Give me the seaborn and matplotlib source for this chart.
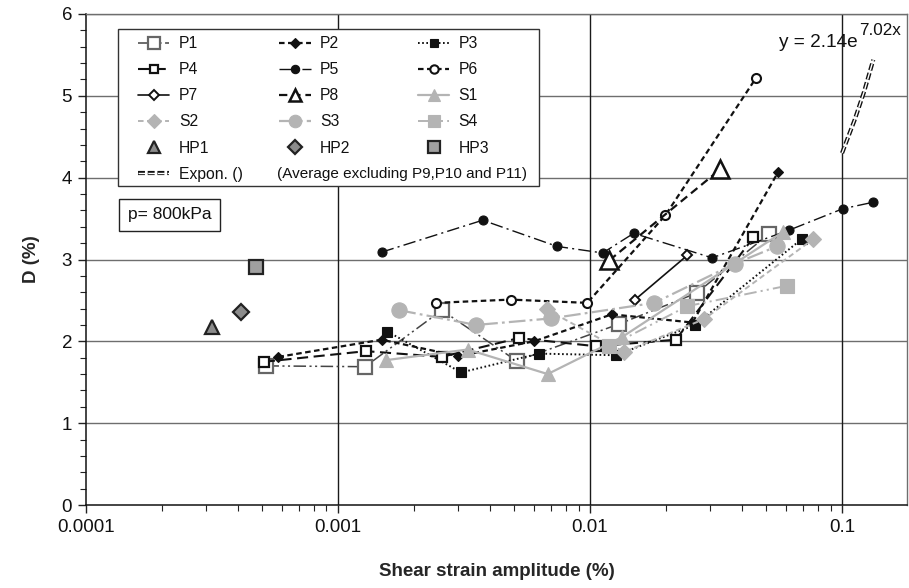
import matplotlib
matplotlib.use("Agg")
import matplotlib.pyplot as plt
import seaborn as sns
import numpy as np
from matplotlib.lines import Line2D
from matplotlib.patches import Rectangle
from matplotlib.legend_handler import HandlerTuple
from matplotlib.ticker import FixedLocator, MultipleLocator, NullFormatter

# ---------------- data ----------------
P1_x = [0.00052, 0.00128, 0.00258, 0.00512, 0.0130, 0.0265, 0.0511]
P1_y = [1.70, 1.69, 2.38, 1.76, 2.21, 2.59, 3.31]
P2_x = [0.00058, 0.00149, 0.0030, 0.0060, 0.0122, 0.0255, 0.0558]
P2_y = [1.81, 2.02, 1.82, 2.00, 2.33, 2.23, 4.07]
P3_x = [0.00157, 0.00308, 0.00628, 0.01268, 0.0261, 0.0692]
P3_y = [2.12, 1.62, 1.85, 1.83, 2.20, 3.25]
P4_x = [0.000508, 0.00129, 0.00258, 0.00522, 0.01057, 0.0219, 0.0445]
P4_y = [1.75, 1.88, 1.81, 2.04, 1.94, 2.02, 3.27]
P5_x = [0.00149, 0.00375, 0.0074, 0.01122, 0.0149, 0.0305, 0.0618, 0.1006, 0.133]
P5_y = [3.09, 3.48, 3.16, 3.08, 3.32, 3.02, 3.36, 3.62, 3.70]
P6_x = [0.00244, 0.00484, 0.00975, 0.0199, 0.0456]
P6_y = [2.47, 2.51, 2.47, 3.54, 5.22]
P7_x = [0.0151, 0.0243]
P7_y = [2.51, 3.05]
P8_x = [0.01193, 0.0328]
P8_y = [2.99, 4.10]
S1_x = [0.00155, 0.00327, 0.00679, 0.01336, 0.0585]
S1_y = [1.77, 1.90, 1.60, 2.05, 3.34]
S2_x = [0.00673, 0.01365, 0.0283, 0.0769]
S2_y = [2.39, 1.87, 2.27, 3.25]
S3_x = [0.00175, 0.00353, 0.0070, 0.0180, 0.0376, 0.0551]
S3_y = [2.38, 2.20, 2.28, 2.47, 2.95, 3.16]
S4_x = [0.01193, 0.0243, 0.0607]
S4_y = [1.94, 2.43, 2.68]
HP1_x = [0.000317]
HP1_y = [2.17]
HP2_x = [0.000412]
HP2_y = [2.36]
HP3_x = [0.000471]
HP3_y = [2.91]
# exponential trend line (y = 2.14 e^(7.02x)) as drawn
EXP_x = [0.100, 0.112, 0.122, 0.133]
EXP_y = [4.30, 4.70, 5.04, 5.44]

x_ticks = [0.0001, 0.001, 0.01, 0.1]
x_ticklabels = ["0.0001", "0.001", "0.01", "0.1"]
y_ticks = [0, 1, 2, 3, 4, 5, 6]

# ---------------- styling ----------------
sns.set_style("white")
plt.rcParams["font.family"] = ["Liberation Sans", "DejaVu Sans"]
plt.rcParams["lines.scale_dashes"] = False

W, H = 909, 588
fig = plt.figure(figsize=(W / 100, H / 100), dpi=100)
ax = fig.add_axes([86 / W, 1 - 505 / H, (907 - 86) / W, (505 - 14) / H])
ax.set_xscale("log")

BLK = "#111111"
GRY = "#b4b4b4"
DGR = "#666666"

series = [
    ("P1", P1_x, P1_y, dict(color="#444444", linestyle=(0, (9, 2.5, 1.5, 2.5, 1.5, 2.5)), linewidth=1.1,
                            marker="s", markersize=10, markerfacecolor="white", markeredgecolor=DGR, markeredgewidth=1.6)),
    ("P2", P2_x, P2_y, dict(color=BLK, linestyle=(0, (4, 2.5)), linewidth=1.6,
                            marker="D", markersize=5, markerfacecolor=BLK, markeredgecolor=BLK, markeredgewidth=0.8)),
    ("P3", P3_x, P3_y, dict(color=BLK, linestyle=(0, (1.2, 1.8)), linewidth=1.4,
                            marker="s", markersize=7, markerfacecolor=BLK, markeredgecolor=BLK, markeredgewidth=0.8)),
    ("P4", P4_x, P4_y, dict(color=BLK, linestyle=(0, (8, 4)), linewidth=1.5,
                            marker="s", markersize=6.5, markerfacecolor="white", markeredgecolor=BLK, markeredgewidth=1.6)),
    ("P5", P5_x, P5_y, dict(color=BLK, linestyle=(0, (9, 3, 1.5, 3)), linewidth=1.0,
                            marker="o", markersize=6.5, markerfacecolor=BLK, markeredgecolor=BLK, markeredgewidth=0.8)),
    ("P6", P6_x, P6_y, dict(color=BLK, linestyle=(0, (4, 2.5)), linewidth=1.6,
                            marker="o", markersize=6.5, markerfacecolor="white", markeredgecolor=BLK, markeredgewidth=1.5)),
    ("P7", P7_x, P7_y, dict(color=BLK, linestyle="-", linewidth=1.2,
                            marker="D", markersize=5.5, markerfacecolor="white", markeredgecolor=BLK, markeredgewidth=1.4)),
    ("P8", P8_x, P8_y, dict(color=BLK, linestyle=(0, (6, 3.5)), linewidth=1.6,
                            marker="^", markersize=13, markerfacecolor="white", markeredgecolor=BLK, markeredgewidth=1.8)),
    ("S1", S1_x, S1_y, dict(color=GRY, linestyle="-", linewidth=1.6,
                            marker="^", markersize=10, markerfacecolor=GRY, markeredgecolor=GRY, markeredgewidth=0.8)),
    ("S2", S2_x, S2_y, dict(color=GRY, linestyle=(0, (4, 2.5)), linewidth=1.4,
                            marker="D", markersize=8, markerfacecolor=GRY, markeredgecolor=GRY, markeredgewidth=0.8)),
    ("S3", S3_x, S3_y, dict(color=GRY, linestyle=(0, (12, 3, 2, 3)), linewidth=1.6,
                            marker="o", markersize=11, markerfacecolor=GRY, markeredgecolor=GRY, markeredgewidth=0.8)),
    ("S4", S4_x, S4_y, dict(color=GRY, linestyle=(0, (9, 3, 1.5, 3, 1.5, 3)), linewidth=1.4,
                            marker="s", markersize=10, markerfacecolor=GRY, markeredgecolor=GRY, markeredgewidth=0.8)),
    ("HP1", HP1_x, HP1_y, dict(color=BLK, linestyle="none",
                               marker="^", markersize=10, markerfacecolor="#8c8c8c", markeredgecolor="#222222", markeredgewidth=1.6)),
    ("HP2", HP2_x, HP2_y, dict(color=BLK, linestyle="none",
                               marker="D", markersize=8, markerfacecolor="#8c8c8c", markeredgecolor="#222222", markeredgewidth=1.6)),
    ("HP3", HP3_x, HP3_y, dict(color=BLK, linestyle="none",
                               marker="s", markersize=10, markerfacecolor="#a0a0a0", markeredgecolor="#222222", markeredgewidth=1.6)),
]

# legend sample marker sizes (legend symbols are a bit smaller than the plotted ones)
legend_ms = {"P1": 8.5, "P2": 5, "P3": 6, "P4": 5.5, "P5": 6, "P6": 6, "P7": 5.5, "P8": 9,
             "S1": 8, "S2": 7, "S3": 9, "S4": 8, "HP1": 8, "HP2": 7, "HP3": 8}

handles = {}
for name, xs, ys, st in series:
    sns.lineplot(x=xs, y=ys, ax=ax, sort=False, estimator=None, legend=False, zorder=5, **st)
    proxy = dict(st)
    proxy["markersize"] = legend_ms[name]
    handles[name] = Line2D([], [], **proxy)

# exponential trend line drawn as a double dashed line
sns.lineplot(x=EXP_x, y=EXP_y, ax=ax, sort=False, estimator=None, legend=False,
             color=BLK, linewidth=3.0, linestyle=(0, (5, 2)), zorder=6)
sns.lineplot(x=EXP_x, y=EXP_y, ax=ax, sort=False, estimator=None, legend=False,
             color="white", linewidth=1.0, linestyle=(0, (5, 2)), zorder=7)
exp_outer = Line2D([], [], color=BLK, linewidth=3.0, linestyle=(0, (5, 2)))
exp_inner = Line2D([], [], color="white", linewidth=1.0, linestyle=(0, (5, 2)))

# ---------------- axes ----------------
ax.set_xlim(0.0001, 0.181)
ax.set_ylim(0, 6)
ax.xaxis.set_major_locator(FixedLocator(x_ticks))
ax.set_xticklabels(x_ticklabels)
ax.xaxis.set_minor_locator(FixedLocator([m * 10.0 ** e for e in range(-4, 0) for m in range(2, 10)]))
ax.xaxis.set_minor_formatter(NullFormatter())
ax.set_yticks(y_ticks)
ax.yaxis.set_minor_locator(MultipleLocator(0.2))
ax.tick_params(axis="both", which="major", direction="out", length=6, width=1, color="#222222",
               labelsize=13.5, pad=4, bottom=True, left=True, top=False, right=False, labelcolor="#111111")
ax.tick_params(axis="both", which="minor", direction="out", length=4, width=0.8, color="#222222",
               bottom=True, left=True, top=False, right=False)
for yv in y_ticks[1:]:
    ax.axhline(yv, color="#6e6e6e", linewidth=1.0, zorder=1)
for xv in x_ticks[1:]:
    ax.axvline(xv, color="#1a1a1a", linewidth=1.0, zorder=1)
for sp in ["left", "bottom"]:
    ax.spines[sp].set_color("#111111")
    ax.spines[sp].set_linewidth(1.1)
for sp in ["top", "right"]:
    ax.spines[sp].set_color("#6e6e6e")
    ax.spines[sp].set_linewidth(1.0)

ax.set_ylabel("D (%)", fontsize=13.5, fontweight="bold")
ax.set_xlabel("Shear strain amplitude (%)", fontsize=13.5, fontweight="bold")
ax.yaxis.set_label_coords(-(86 - 40) / 821, 0.5)
ax.xaxis.set_label_coords(0.5, -(563 - 505) / 491)

# ---------------- legend ----------------
ax.add_patch(Rectangle((118 / W, 1 - 186 / H), (539 - 118) / W, (186 - 29) / H, transform=fig.transFigure,
                       facecolor="white", edgecolor="#333333", linewidth=1.0, zorder=9, clip_on=False))

blank1 = Line2D([], [], linestyle="none")
blank2 = Line2D([], [], linestyle="none")
pad_label = " " * 14
order = [
    (handles["P1"], "P1"), (handles["P4"], "P4"), (handles["P7"], "P7"), (handles["S2"], "S2"), (handles["HP1"], "HP1"),
    ((exp_outer, exp_inner), "Expon. ()"),
    (handles["P2"], "P2"), (handles["P5"], "P5"), (handles["P8"], "P8"), (handles["S3"], "S3"), (handles["HP2"], "HP2"),
    (blank1, pad_label),
    (handles["P3"], "P3"), (handles["P6"], "P6"), (handles["S1"], "S1"), (handles["S4"], "S4"), (handles["HP3"], "HP3"),
    (blank2, pad_label),
]
leg = ax.legend([h for h, _ in order], [l for _, l in order], ncol=3,
                loc="upper left", bbox_to_anchor=(138 / W, 1 - 36 / H), bbox_transform=fig.transFigure,
                borderaxespad=0, frameon=False, fontsize=11.3,
                handlelength=2.0, handletextpad=0.6, columnspacing=2.33, labelspacing=0.71,
                borderpad=0.0, numpoints=1, handler_map={tuple: HandlerTuple(ndivide=1, pad=0)})
leg.set_zorder(10)
for t in leg.get_texts():
    t.set_color("#111111")

fig.text(277 / W, 1 - 174 / H, "(Average excluding P9,P10 and P11)", fontsize=11, va="center", ha="left",
         color="#111111", zorder=20)

fig.text(128 / W, 1 - 215 / H, "p= 800kPa", fontsize=12.5, va="center", ha="left", color="#111111",
         bbox=dict(boxstyle="square,pad=0.5", fc="white", ec="#222222", lw=1.0), zorder=20)

fig.text(779 / W, 1 - 47 / H, "y = 2.14e", fontsize=13.7, va="baseline", ha="left", color="#111111")
fig.text(859 / W, 1 - 35 / H, "7.02x", fontsize=12.3, va="baseline", ha="left", color="#111111")

fig.savefig("out.png", dpi=100)
